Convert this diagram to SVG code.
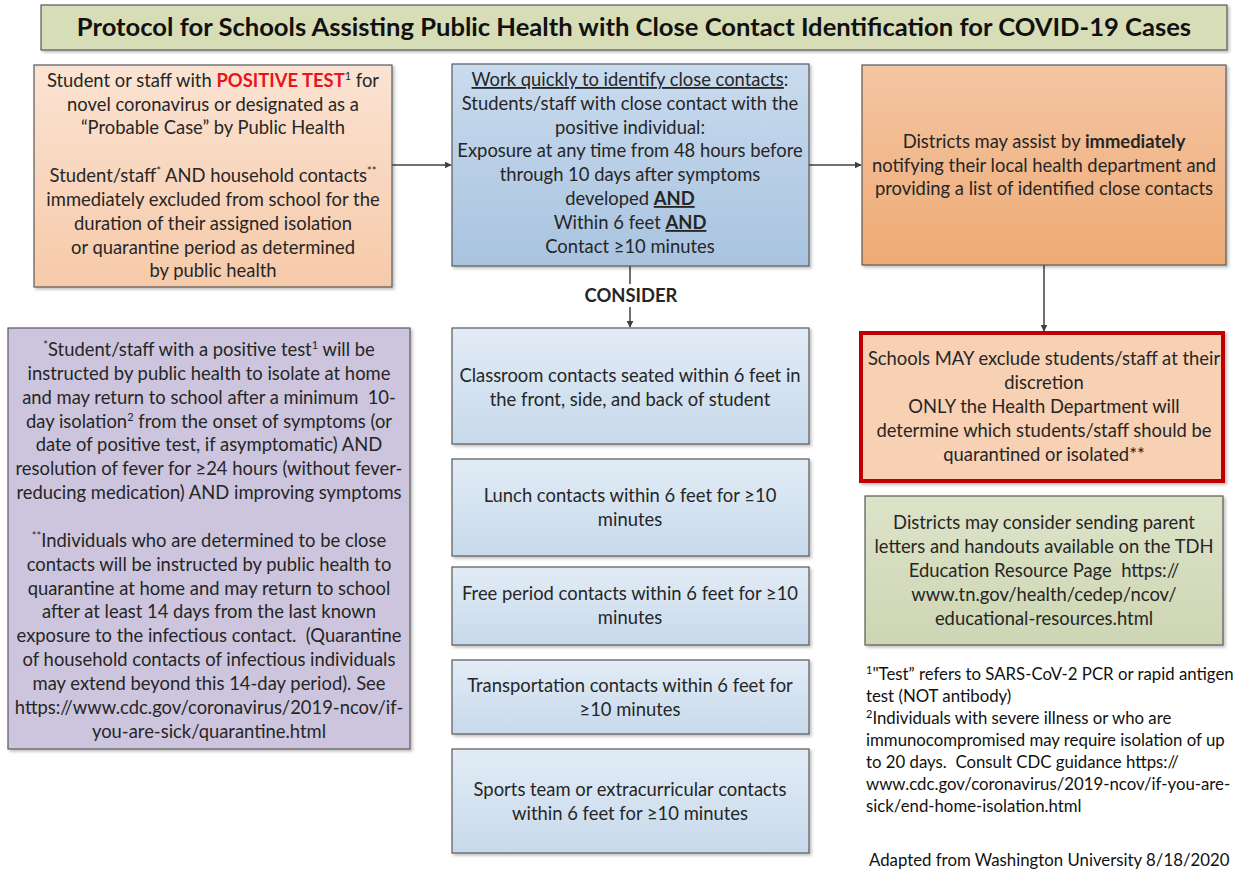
<svg xmlns="http://www.w3.org/2000/svg" width="1236" height="869" viewBox="0 0 1236 869">
  <style>
    text { font-family: Lato, "Open Sans", "Liberation Sans", sans-serif; font-size: 18.4px; fill: #262626; text-anchor: middle; }
    .title { font-size: 25.6px; font-weight: bold; fill: #111; }
    .box { stroke: #595959; stroke-width: 1.2; }
    .b { font-weight: bold; }
    .u { text-decoration: underline; }
    .sup { font-size: 11px; }
    .pre { white-space: pre; }
    .conn { stroke: #404040; stroke-width: 1.5; fill: none; }
    .foot { text-anchor: start; font-size: 16.8px; fill: #111; }
  </style>
  <defs>
    <filter id="shadow" x="-5%" y="-5%" width="112%" height="112%">
      <feDropShadow dx="2" dy="2" stdDeviation="1.5" flood-color="#000" flood-opacity="0.25"/>
    </filter>
    <linearGradient id="gPeach" x1="0" y1="0" x2="0" y2="1">
      <stop offset="0" stop-color="#fbe3d3"/>
      <stop offset="1" stop-color="#f6caa9"/>
    </linearGradient>
    <linearGradient id="gBlue" x1="0" y1="0" x2="0" y2="1">
      <stop offset="0" stop-color="#c9dbee"/>
      <stop offset="1" stop-color="#a9c3df"/>
    </linearGradient>
    <linearGradient id="gLightBlue" x1="0" y1="0" x2="0" y2="1">
      <stop offset="0" stop-color="#e2ecf6"/>
      <stop offset="1" stop-color="#c7d9eb"/>
    </linearGradient>
    <linearGradient id="gOrange" x1="0" y1="0" x2="0" y2="1">
      <stop offset="0" stop-color="#f5c6a4"/>
      <stop offset="1" stop-color="#eeaa74"/>
    </linearGradient>
    <linearGradient id="gGreen" x1="0" y1="0" x2="0" y2="1">
      <stop offset="0" stop-color="#dde3c8"/>
      <stop offset="1" stop-color="#cdd6b4"/>
    </linearGradient>
    <marker id="arrow" viewBox="0 0 10 10" refX="9" refY="5" markerWidth="7" markerHeight="7" orient="auto" markerUnits="userSpaceOnUse">
      <path d="M0,0 L10,5 L0,10 z" fill="#404040"/>
    </marker>
  </defs>

  <rect width="1236" height="869" fill="#ffffff"/>

  <!-- Title banner -->
  <g id="title">
    <rect class="box" x="41" y="5" width="1186" height="45" fill="#d7ddb6" filter="url(#shadow)"/>
    <text class="title" x="634" y="36">Protocol for Schools Assisting Public Health with Close Contact Identification for COVID-19 Cases</text>
  </g>

  <!-- Connectors -->
  <g id="connectors">
    <line class="conn" x1="392" y1="165" x2="451" y2="165" marker-end="url(#arrow)"/>
    <line class="conn" x1="809" y1="165" x2="861" y2="165" marker-end="url(#arrow)"/>
    <line class="conn" x1="1044" y1="265" x2="1044" y2="331" marker-end="url(#arrow)"/>
    <line class="conn" x1="630" y1="266" x2="630" y2="284"/>
    <line class="conn" x1="630" y1="307" x2="630" y2="327" marker-end="url(#arrow)"/>
    <text class="b" x="631" y="302" font-size="16">CONSIDER</text>
  </g>

  <!-- Positive case -->
  <g id="positive-case">
    <rect class="box" x="34" y="65" width="358" height="222" fill="url(#gPeach)" filter="url(#shadow)"/>
    <text x="213" y="87">Student or staff with <tspan class="b" fill="#e8141e">POSITIVE TEST</tspan><tspan class="sup" dy="-7">1</tspan><tspan dy="7"> for</tspan></text>
    <text x="213" y="111">novel coronavirus or designated as a</text>
    <text x="213" y="134">“Probable Case” by Public Health</text>
    <text x="213" y="182">Student/staff<tspan class="sup" dy="-7">*</tspan><tspan dy="7"> AND household contacts</tspan><tspan class="sup" dy="-7">**</tspan></text>
    <text x="213" y="206">immediately excluded from school for the</text>
    <text x="213" y="230">duration of their assigned isolation</text>
    <text x="213" y="254">or quarantine period as determined</text>
    <text x="213" y="277">by public health</text>
  </g>

  <!-- Identify close contacts -->
  <g id="identify-contacts">
    <rect class="box" x="452" y="64" width="357" height="202" fill="url(#gBlue)" filter="url(#shadow)"/>
    <text x="630" y="86"><tspan class="u">Work quickly to identify close contacts</tspan>:</text>
    <text x="630" y="110">Students/staff with close contact with the</text>
    <text x="630" y="134">positive individual:</text>
    <text x="630" y="157">Exposure at any time from 48 hours before</text>
    <text x="630" y="181">through 10 days after symptoms</text>
    <text x="630" y="205">developed <tspan class="b u">AND</tspan></text>
    <text x="630" y="229">Within 6 feet <tspan class="b u">AND</tspan></text>
    <text x="630" y="253">Contact ≥10 minutes</text>
  </g>

  <!-- Notify health department -->
  <g id="notify-health-dept">
    <rect class="box" x="862" y="65" width="364" height="200" fill="url(#gOrange)" filter="url(#shadow)"/>
    <text x="1044" y="148">Districts may assist by <tspan class="b">immediately</tspan></text>
    <text x="1044" y="172">notifying their local health department and</text>
    <text x="1044" y="195">providing a list of identified close contacts</text>
  </g>

  <!-- Schools may exclude -->
  <g id="schools-may-exclude">
    <rect x="861" y="333" width="362" height="148" fill="#f8d0b3" stroke="#c00000" stroke-width="4" filter="url(#shadow)"/>
    <text x="1044" y="365">Schools MAY exclude students/staff at their</text>
    <text x="1044" y="389">discretion</text>
    <text x="1044" y="413">ONLY the Health Department will</text>
    <text x="1044" y="437">determine which students/staff should be</text>
    <text x="1044" y="461">quarantined or isolated**</text>
  </g>

  <!-- Parent letters -->
  <g id="parent-letters">
    <rect class="box" x="865" y="496" width="358" height="149" fill="url(#gGreen)" filter="url(#shadow)"/>
    <text x="1044" y="529">Districts may consider sending parent</text>
    <text x="1044" y="553">letters and handouts available on the TDH</text>
    <text class="pre" x="1044" y="577">Education Resource Page  https://</text>
    <text x="1044" y="601">www.tn.gov/health/cedep/ncov/</text>
    <text x="1044" y="625">educational-resources.html</text>
  </g>

  <!-- Isolation / quarantine notes -->
  <g id="isolation-notes">
    <rect class="box" x="8" y="328" width="402" height="421" fill="#ccc5dd" filter="url(#shadow)"/>
    <text x="209" y="356"><tspan class="sup" dy="-7">*</tspan><tspan dy="7">Student/staff with a positive test</tspan><tspan class="sup" dy="-7">1</tspan><tspan dy="7"> will be</tspan></text>
    <text x="209" y="380">instructed by public health to isolate at home</text>
    <text class="pre" x="209" y="404">and may return to school after a minimum  10-</text>
    <text x="209" y="428">day isolation<tspan class="sup" dy="-7">2</tspan><tspan dy="7"> from the onset of symptoms (or</tspan></text>
    <text x="209" y="451">date of positive test, if asymptomatic) AND</text>
    <text x="209" y="475">resolution of fever for ≥24 hours (without fever-</text>
    <text x="209" y="499">reducing medication) AND improving symptoms</text>
    <text x="209" y="547"><tspan class="sup" dy="-7">**</tspan><tspan dy="7">Individuals who are determined to be close</tspan></text>
    <text x="209" y="571">contacts will be instructed by public health to</text>
    <text x="209" y="595">quarantine at home and may return to school</text>
    <text x="209" y="618">after at least 14 days from the last known</text>
    <text class="pre" x="209" y="642">exposure to the infectious contact.  (Quarantine</text>
    <text x="209" y="666">of household contacts of infectious individuals</text>
    <text x="209" y="690">may extend beyond this 14-day period). See</text>
    <text x="209" y="714">https://www.cdc.gov/coronavirus/2019-ncov/if-</text>
    <text x="209" y="738">you-are-sick/quarantine.html</text>
  </g>

  <!-- Contact settings to consider -->
  <g id="classroom-contacts">
    <rect class="box" x="452" y="328" width="357" height="116" fill="url(#gLightBlue)" filter="url(#shadow)"/>
    <text x="630" y="382">Classroom contacts seated within 6 feet in</text>
    <text x="630" y="406">the front, side, and back of student</text>
  </g>
  <g id="lunch-contacts">
    <rect class="box" x="452" y="459" width="357" height="97" fill="url(#gLightBlue)" filter="url(#shadow)"/>
    <text x="630" y="502">Lunch contacts within 6 feet for ≥10</text>
    <text x="630" y="526">minutes</text>
  </g>
  <g id="free-period-contacts">
    <rect class="box" x="452" y="567" width="357" height="78" fill="url(#gLightBlue)" filter="url(#shadow)"/>
    <text x="630" y="600">Free period contacts within 6 feet for ≥10</text>
    <text x="630" y="624">minutes</text>
  </g>
  <g id="transportation-contacts">
    <rect class="box" x="452" y="660" width="357" height="74" fill="url(#gLightBlue)" filter="url(#shadow)"/>
    <text x="630" y="692">Transportation contacts within 6 feet for</text>
    <text x="630" y="716">≥10 minutes</text>
  </g>
  <g id="sports-contacts">
    <rect class="box" x="452" y="749" width="357" height="104" fill="url(#gLightBlue)" filter="url(#shadow)"/>
    <text x="630" y="796">Sports team or extracurricular contacts</text>
    <text x="630" y="820">within 6 feet for ≥10 minutes</text>
  </g>

  <!-- Footnotes -->
  <g id="footnotes">
    <text class="foot" x="866" y="680"><tspan class="sup" dy="-6">1</tspan><tspan dy="6">"Test” refers to SARS-CoV-2 PCR or rapid antigen</tspan></text>
    <text class="foot" x="866" y="702">test (NOT antibody)</text>
    <text class="foot" x="866" y="724"><tspan class="sup" dy="-6">2</tspan><tspan dy="6">Individuals with severe illness or who are</tspan></text>
    <text class="foot" x="866" y="746">immunocompromised may require isolation of up</text>
    <text class="foot pre" x="866" y="768">to 20 days.  Consult CDC guidance https://</text>
    <text class="foot" x="866" y="790">www.cdc.gov/coronavirus/2019-ncov/if-you-are-</text>
    <text class="foot" x="866" y="812">sick/end-home-isolation.html</text>
    <text class="foot" x="869" y="866">Adapted from Washington University 8/18/2020</text>
  </g>
</svg>
